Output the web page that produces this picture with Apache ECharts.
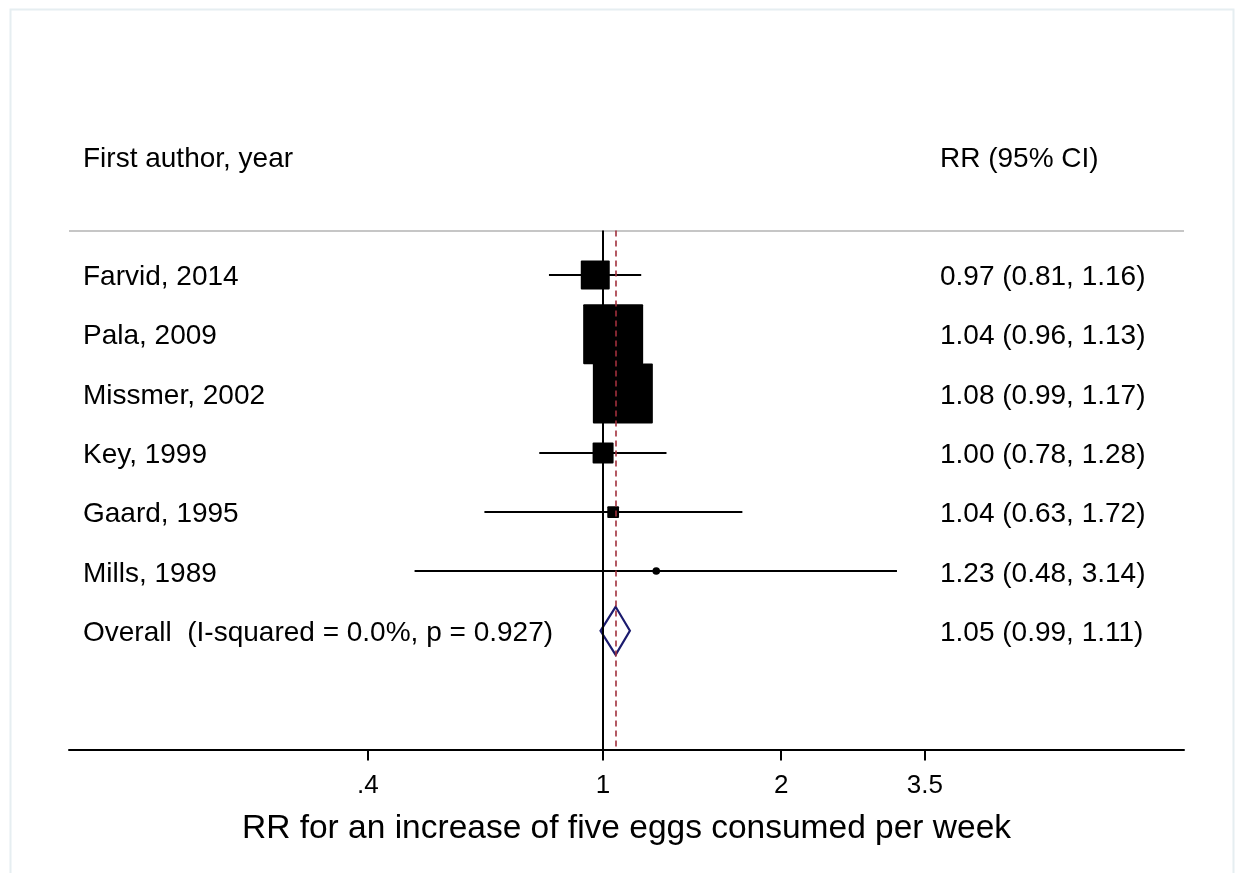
<!DOCTYPE html>
<html>
<head>
<meta charset="utf-8">
<script src="https://cdn.jsdelivr.net/npm/echarts@6/dist/echarts.min.js"></script>
<style>
html,body{margin:0;padding:0;background:#fff;}
#chart{width:1235px;height:873px;}
</style>
</head>
<body>
<div id="chart"></div>
<script>
// ---- data ----
const studies = ['Farvid, 2014', 'Pala, 2009', 'Missmer, 2002', 'Key, 1999', 'Gaard, 1995', 'Mills, 1989'];
const rr      = [0.97, 1.04, 1.08, 1.00, 1.04, 1.23];
const ciLow   = [0.81, 0.96, 0.99, 0.78, 0.63, 0.48];
const ciHigh  = [1.16, 1.13, 1.17, 1.28, 1.72, 3.14];
const weights = [9.7, 41.6, 41.6, 5.1, 1.6, 0.3];
const overallLabel = 'Overall  (I-squared = 0.0%, p = 0.927)';
const overallRR = 1.05, overallLow = 0.99, overallHigh = 1.11;
const headerLeft = 'First author, year';
const headerRight = 'RR (95% CI)';
const tickValues = [0.4, 1, 2, 3.5];
const tickLabels = ['.4', '1', '2', '3.5'];
const axisTitle = 'RR for an increase of five eggs consumed per week';
const axisMinRR = 0.125, axisMaxRR = 9.6;

// ---- layout / style ----
const FONT = '"Liberation Sans", Arial, Helvetica, sans-serif';
const ROW_FONT = 28;
const LEFT_X = 83, RIGHT_X = 940;
const TEXT_DY = 2.5;
const BOX_K = 9.3;
const fmt = v => v.toFixed(2);
const ln = Math.log;

const rows = studies.map((s, i) => i + 1);
const overallRow = studies.length + 1;
const headerRow = -1;

const studyData = studies.map((s, i) => [ln(rr[i]), rows[i], ln(ciLow[i]), ln(ciHigh[i]), weights[i]]);

const textRows = [
  {row: headerRow, left: headerLeft, right: headerRight}
].concat(studies.map((s, i) => ({
  row: rows[i], left: s, right: fmt(rr[i]) + ' (' + fmt(ciLow[i]) + ', ' + fmt(ciHigh[i]) + ')'
}))).concat([{
  row: overallRow, left: overallLabel,
  right: fmt(overallRR) + ' (' + fmt(overallLow) + ', ' + fmt(overallHigh) + ')'
}]);

const chart = echarts.init(document.getElementById('chart'), null, {renderer: 'canvas'});

const option = {
  backgroundColor: '#ffffff',
  animation: false,
  graphic: [{
    type: 'rect', left: 8, top: 7, silent: true,
    shape: {x: 0, y: 0, width: 1223, height: 900},
    style: {fill: 'none', stroke: '#e6eef1', lineWidth: 2}
  }],
  grid: {left: 69, right: 51, top: 230.5, bottom: 123.6, containLabel: false},
  xAxis: {
    type: 'value',
    min: ln(axisMinRR), max: ln(axisMaxRR),
    position: 'bottom',
    splitLine: {show: false},
    axisLine: {show: true, onZero: false, lineStyle: {color: '#000', width: 2}},
    axisTick: {show: true, length: 11, lineStyle: {color: '#000', width: 2},
      customValues: tickValues.map(v => ln(v))},
    axisLabel: {
      show: true, color: '#000', fontSize: 26, fontFamily: FONT, margin: 23,
      customValues: tickValues.map(v => ln(v)),
      formatter: function (val) {
        let best = 0, bd = Infinity;
        tickValues.forEach((t, i) => { const d = Math.abs(ln(t) - val); if (d < bd) { bd = d; best = i; } });
        return tickLabels[best];
      }
    },
    name: axisTitle,
    nameLocation: 'middle',
    nameGap: 62,
    nameTextStyle: {color: '#000', fontSize: 33.5, fontFamily: FONT}
  },
  yAxis: {
    type: 'value', inverse: true, min: 0.25, max: overallRow + 2,
    show: false
  },
  series: [
    {
      // reference lines
      type: 'custom', z: 1, silent: true,
      data: [[0, 0]],
      renderItem: function () { return {type: 'group', children: []}; },
      markLine: {
        silent: true, symbol: 'none', animation: false,
        label: {show: false},
        data: [
          {yAxis: 0.25, lineStyle: {color: '#c6c6c6', width: 2, type: 'solid'}},
          {xAxis: 0, lineStyle: {color: '#000', width: 2, type: 'solid'}},
          {xAxis: ln(overallRR), lineStyle: {color: '#a0303c', width: 1.6, type: [6, 4]}}
        ]
      }
    },
    {
      // studies
      type: 'custom', z: 3, silent: true,
      data: studyData,
      renderItem: function (params, api) {
        const y = api.value(1);
        const c = api.coord([api.value(0), y]);
        const l = api.coord([api.value(2), y]);
        const h = api.coord([api.value(3), y]);
        const side = BOX_K * Math.sqrt(api.value(4));
        const yy = Math.round(c[1]);
        return {
          type: 'group',
          children: [
            {type: 'line', shape: {x1: l[0], y1: yy, x2: h[0], y2: yy},
              style: {stroke: '#000', lineWidth: 2.2}},
            {type: 'rect', shape: {x: c[0] - side / 2, y: c[1] - side / 2, width: side, height: side, r: 1},
              style: {fill: '#000', stroke: null}},
            {type: 'circle', shape: {cx: c[0], cy: yy, r: 3.8},
              style: {fill: '#000'}}
          ]
        };
      }
    },
    {
      // overall diamond
      type: 'custom', z: 4, silent: true,
      data: [[ln(overallRR), overallRow, ln(overallLow), ln(overallHigh)]],
      renderItem: function (params, api) {
        const y = api.value(1);
        const c = api.coord([api.value(0), y]);
        const l = api.coord([api.value(2), y]);
        const h = api.coord([api.value(3), y]);
        const hh = 24;
        return {
          type: 'polygon',
          shape: {points: [[l[0], c[1]], [c[0], c[1] - hh], [h[0], c[1]], [c[0], c[1] + hh]]},
          style: {fill: 'none', stroke: '#1b1b6e', lineWidth: 2.2}
        };
      }
    },
    {
      // text columns
      type: 'custom', z: 5, silent: true,
      data: textRows.map(t => [0, t.row]),
      renderItem: function (params, api) {
        const t = textRows[params.dataIndex];
        const y = api.coord([0, api.value(1)])[1] + TEXT_DY;
        return {
          type: 'group',
          children: [
            {type: 'text', style: {text: t.left, x: LEFT_X, y: y, fill: '#000',
              fontSize: ROW_FONT, fontFamily: FONT, align: 'left', verticalAlign: 'middle'}},
            {type: 'text', style: {text: t.right, x: RIGHT_X, y: y, fill: '#000',
              fontSize: ROW_FONT, fontFamily: FONT, align: 'left', verticalAlign: 'middle'}}
          ]
        };
      }
    }
  ]
};
chart.setOption(option);
</script>
</body>
</html>
